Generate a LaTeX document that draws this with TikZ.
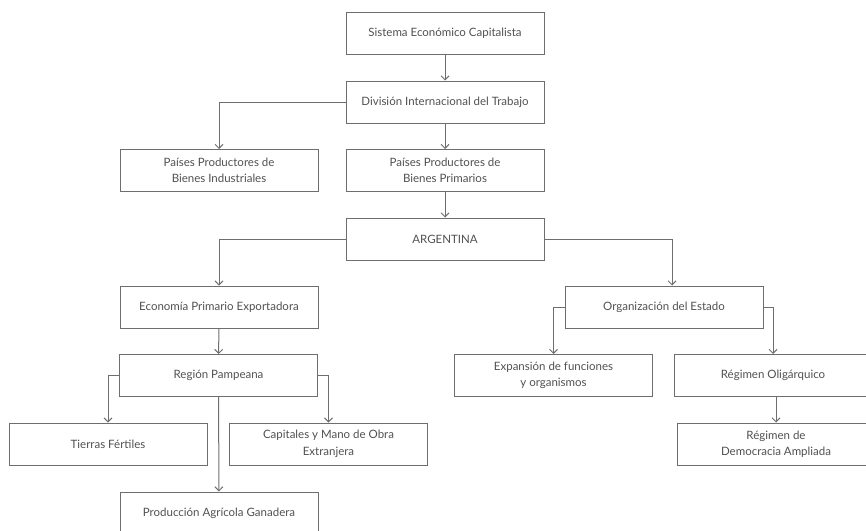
\documentclass[tikz,border=0pt]{standalone}
\usepackage{fontspec}
\setmainfont{Lato}
\usetikzlibrary{arrows.meta}
\definecolor{linegray}{HTML}{6E6E6E}
\definecolor{textgray}{HTML}{505050}
\begin{document}
\begin{tikzpicture}[x=1pt,y=-1pt,>={Straight Barb[length=4pt,width=8pt]},
  every node/.style={font=\fontsize{11.5}{16.5}\selectfont, text=textgray},
  box/.style={draw=linegray, line width=1pt, minimum width=198pt, minimum height=42pt, align=center, inner sep=0pt},
  link/.style={draw=linegray, line width=1pt}]
  \useasboundingbox (0,0) rectangle (866,530);
  % Nodes
  \node[box] (sistema) at (445,33.5) {Sistema Económico Capitalista};
  \node[box] (division) at (445,102) {División Internacional del Trabajo};
  \node[box] (industriales) at (219,170.5) {Países Productores de\\Bienes Industriales};
  \node[box] (primarios) at (445,170.5) {Países Productores de\\Bienes Primarios};
  \node[box] (argentina) at (445,239) {ARGENTINA};
  \node[box] (economia) at (219,307) {Economía Primario Exportadora};
  \node[box] (organizacion) at (664,307) {Organización del Estado};
  \node[box] (pampeana) at (218.5,375.5) {Región Pampeana};
  \node[box] (expansion) at (553.5,375.5) {Expansión de funciones\\y organismos};
  \node[box] (oligarquico) at (773,375.5) {Régimen Oligárquico};
  \node[box] (tierras) at (108,444) {Tierras Fértiles};
  \node[box] (capitales) at (328.5,444) {Capitales y Mano de Obra\\Extranjera};
  \node[box] (democracia) at (776,444) {Régimen de\\Democracia Ampliada};
  \node[box] (produccion) at (219,513) {Producción Agrícola Ganadera};

  % Arrows
  \draw[link,->] (sistema) -- (division);
  \draw[link,->] (division.west) -| (industriales.north);
  \draw[link,->] (division) -- (primarios);
  \draw[link,->] (primarios) -- (argentina);
  \draw[link,->] (argentina.west) -| (economia.north);
  \draw[link,->] (argentina.east) -| ([xshift=8pt]organizacion.north);
  \draw[link,->] (economia) -- (pampeana);
  \draw[link,->] (organizacion.west) -| (expansion.north);
  \draw[link,->] (organizacion.east) -| (oligarquico.north);
  \draw[link,->] (pampeana.west) -| (tierras.north);
  \draw[link,->] (pampeana.east) -| (capitales.north);
  \draw[link,->] (pampeana) -- (produccion);
  \draw[link,->] ([xshift=3pt]oligarquico.south) -- ([xshift=3pt]oligarquico.south |- democracia.north);
\end{tikzpicture}
\end{document}
